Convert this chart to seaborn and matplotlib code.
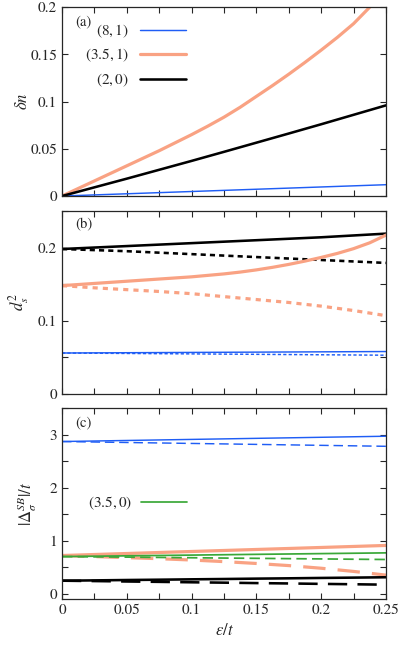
# plot.py - three stacked panels vs eps/t

import matplotlib
matplotlib.use("Agg")
import matplotlib.pyplot as plt
from matplotlib.ticker import MultipleLocator, FuncFormatter
import seaborn as sns

# Data
eps = [0, 0.025, 0.05, 0.075, 0.1, 0.125, 0.15, 0.175, 0.2, 0.225, 0.25]
eps_fine = [0, 0.0125, 0.025, 0.0375, 0.05, 0.0625, 0.075, 0.0875, 0.1, 0.1125, 0.125,
            0.1375, 0.15, 0.1625, 0.175, 0.1875, 0.2, 0.2125, 0.225, 0.2375, 0.25]

# panel (a): delta n
dn_8_1 = [0, 0.0012, 0.0024, 0.0036, 0.0048, 0.006, 0.0072, 0.0084, 0.0096, 0.0108, 0.012]
dn_35_1 = [0, 0.008, 0.016, 0.024, 0.032, 0.040, 0.048, 0.0565, 0.065, 0.074, 0.0835,
           0.094, 0.1055, 0.117, 0.129, 0.1415, 0.1545, 0.168, 0.1825, 0.2, 0.222]  # eps_fine
dn_2_0 = [0, 0.0092, 0.0184, 0.0278, 0.0372, 0.0468, 0.0565, 0.0662, 0.076, 0.086, 0.096]

# panel (b): d_s^2 (solid / dashed)
ds_2_0 = [0.198, 0.200, 0.202, 0.204, 0.206, 0.208, 0.210, 0.212, 0.214, 0.2165, 0.219]
ds_2_0_b = [0.198, 0.1965, 0.195, 0.193, 0.191, 0.189, 0.187, 0.185, 0.183, 0.181, 0.179]
ds_35_1 = [0.148, 0.1495, 0.151, 0.1525, 0.154, 0.1555, 0.157, 0.1585, 0.160, 0.162, 0.164,
           0.1665, 0.1695, 0.173, 0.177, 0.1815, 0.1865, 0.192, 0.1985, 0.2065, 0.217]  # eps_fine
ds_35_1_b = [0.148, 0.145, 0.1425, 0.140, 0.137, 0.133, 0.129, 0.125, 0.120, 0.114, 0.107]
ds_8_1 = [0.056, 0.0562, 0.0564, 0.0566, 0.0568, 0.057, 0.0572, 0.0574, 0.0576, 0.0578, 0.058]
ds_8_1_b = [0.056, 0.0557, 0.0554, 0.0551, 0.0548, 0.0545, 0.0542, 0.0539, 0.0536, 0.0533, 0.053]

# panel (c): |Delta_sigma^SB|/t (solid / dashed)
gap_8_1 = [2.87, 2.88, 2.89, 2.90, 2.91, 2.92, 2.93, 2.94, 2.95, 2.96, 2.97]
gap_8_1_b = [2.87, 2.861, 2.852, 2.843, 2.834, 2.825, 2.816, 2.807, 2.798, 2.789, 2.78]
gap_35_1 = [0.72, 0.739, 0.758, 0.777, 0.796, 0.815, 0.834, 0.853, 0.872, 0.891, 0.91]
gap_35_1_b = [0.72, 0.70, 0.68, 0.66, 0.635, 0.605, 0.57, 0.53, 0.48, 0.42, 0.35]
gap_35_0 = [0.70, 0.707, 0.714, 0.721, 0.728, 0.735, 0.742, 0.749, 0.756, 0.763, 0.77]
gap_35_0_b = [0.70, 0.695, 0.69, 0.684, 0.678, 0.672, 0.667, 0.661, 0.656, 0.65, 0.645]
gap_2_0 = [0.245, 0.251, 0.258, 0.264, 0.271, 0.277, 0.284, 0.29, 0.297, 0.303, 0.31]
gap_2_0_b = [0.245, 0.238, 0.230, 0.223, 0.215, 0.208, 0.200, 0.193, 0.185, 0.178, 0.17]

labels = [r"$(8,1)$", r"$(3.5,1)$", r"$(2,0)$", r"$(3.5,0)$"]

# Settings
sns.set_style("ticks")
plt.rcParams["font.family"] = "serif"
plt.rcParams["font.serif"] = ["STIXGeneral", "Liberation Serif", "DejaVu Serif"]
plt.rcParams["mathtext.fontset"] = "stix"
plt.rcParams["axes.linewidth"] = 0.9

BLUE = "#1f5df5"
SALMON = "#f9a283"
BLACK = "#000000"
GREEN = "#3aa838"

LW_BLUE, LW_SALMON, LW_BLACK, LW_GREEN = 1.05, 2.3, 1.85, 1.25

fig = plt.figure(figsize=(3.99, 6.47), dpi=100)
ax_a = fig.add_axes([0.1554, 0.697, 0.812, 0.292])
ax_b = fig.add_axes([0.1554, 0.391, 0.812, 0.283])
ax_c = fig.add_axes([0.1554, 0.0742, 0.812, 0.295])

fmt = FuncFormatter(lambda v, p: f"{v:g}")

# (a)
sns.lineplot(x=eps, y=dn_8_1, ax=ax_a, color=BLUE, lw=LW_BLUE, label=labels[0])
sns.lineplot(x=eps_fine, y=dn_35_1, ax=ax_a, color=SALMON, lw=LW_SALMON, label=labels[1])
sns.lineplot(x=eps, y=dn_2_0, ax=ax_a, color=BLACK, lw=LW_BLACK, label=labels[2])
ax_a.set_ylim(0, 0.2)
ax_a.yaxis.set_major_locator(MultipleLocator(0.05))
ax_a.set_ylabel(r"$\delta n$", fontsize=12)
ax_a.legend(loc="upper left", bbox_to_anchor=(0.07, 0.92), markerfirst=False,
            frameon=False, fontsize=11, handlelength=3.0, handletextpad=0.75,
            labelspacing=0.47, borderpad=0, borderaxespad=0)

# (b)
sns.lineplot(x=eps, y=ds_2_0, ax=ax_b, color=BLACK, lw=LW_BLACK)
sns.lineplot(x=eps, y=ds_2_0_b, ax=ax_b, color=BLACK, lw=LW_BLACK, linestyle=(0, (2.0, 1.6)))
sns.lineplot(x=eps_fine, y=ds_35_1, ax=ax_b, color=SALMON, lw=LW_SALMON)
sns.lineplot(x=eps, y=ds_35_1_b, ax=ax_b, color=SALMON, lw=LW_SALMON, linestyle=(0, (1.6, 1.6)))
sns.lineplot(x=eps, y=ds_8_1, ax=ax_b, color=BLUE, lw=LW_BLUE)
sns.lineplot(x=eps, y=ds_8_1_b, ax=ax_b, color=BLUE, lw=LW_BLUE, linestyle=(0, (2.2, 1.5)))
ax_b.set_ylim(0, 0.25)
ax_b.yaxis.set_major_locator(MultipleLocator(0.1))
ax_b.yaxis.set_minor_locator(MultipleLocator(0.05))
ax_b.set_ylabel(r"$d_s^2$", fontsize=12)

# (c)
sns.lineplot(x=eps, y=gap_8_1, ax=ax_c, color=BLUE, lw=LW_BLUE)
sns.lineplot(x=eps, y=gap_8_1_b, ax=ax_c, color=BLUE, lw=LW_BLUE, linestyle=(0, (6.5, 3.3)))
sns.lineplot(x=eps, y=gap_35_1, ax=ax_c, color=SALMON, lw=LW_SALMON)
sns.lineplot(x=eps, y=gap_35_1_b, ax=ax_c, color=SALMON, lw=LW_SALMON, linestyle=(0, (7.0, 3.8)))
sns.lineplot(x=eps, y=gap_35_0, ax=ax_c, color=GREEN, lw=LW_GREEN, label=labels[3])
sns.lineplot(x=eps, y=gap_35_0_b, ax=ax_c, color=GREEN, lw=LW_GREEN, linestyle=(0, (6.0, 3.0)))
sns.lineplot(x=eps, y=gap_2_0, ax=ax_c, color=BLACK, lw=LW_BLACK)
sns.lineplot(x=eps, y=gap_2_0_b, ax=ax_c, color=BLACK, lw=LW_BLACK, linestyle=(0, (7.5, 4.0)))
ax_c.set_ylim(-0.1, 3.5)
ax_c.yaxis.set_major_locator(MultipleLocator(1))
ax_c.yaxis.set_minor_locator(MultipleLocator(0.5))
ax_c.set_ylabel(r"$|\Delta_\sigma^{SB}|/t$", fontsize=12)
ax_c.set_xlabel(r"$\varepsilon/t$", fontsize=12)
ax_c.legend(loc="center left", bbox_to_anchor=(0.08, 0.503), markerfirst=False,
            frameon=False, fontsize=11, handlelength=3.0, handletextpad=0.6,
            borderpad=0, borderaxespad=0)

panel_tags = ["(a)", "(b)", "(c)"]
for ax, tag in zip([ax_a, ax_b, ax_c], panel_tags):
    ax.set_xlim(0, 0.25)
    ax.xaxis.set_major_locator(MultipleLocator(0.05))
    ax.xaxis.set_minor_locator(MultipleLocator(0.025))
    ax.xaxis.set_major_formatter(fmt)
    ax.yaxis.set_major_formatter(fmt)
    ax.tick_params(which="both", direction="in", top=True, right=True,
                   length=4, width=0.8, labelsize=11)
    ax.text(0.04, 0.925, tag, transform=ax.transAxes, fontsize=10.5, va="center")
    ax.yaxis.set_label_coords(-0.095, 0.5)
    for s in ax.spines.values():
        s.set_visible(True)

ax_a.tick_params(labelbottom=False)
ax_b.tick_params(labelbottom=False)
ax_c.yaxis.set_label_coords(-0.07, 0.5)

plt.savefig("out.png", dpi=100)
plt.close()
